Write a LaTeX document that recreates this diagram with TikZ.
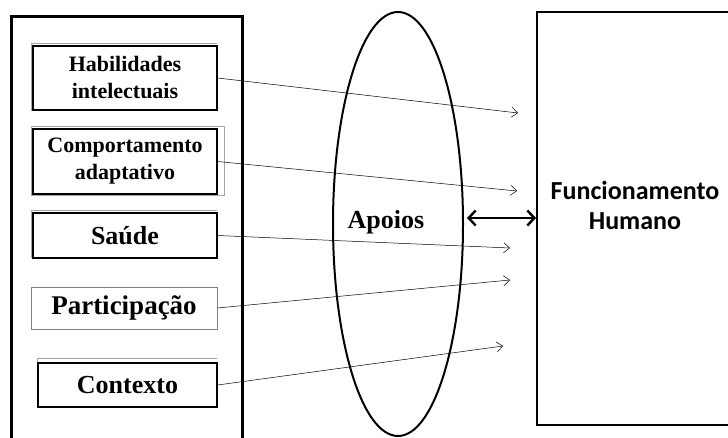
\documentclass[tikz,border=0pt]{standalone}
\usepackage{fontspec}
\setmainfont{Liberation Serif}
\newfontfamily\calibri{Carlito}
\usetikzlibrary{shapes.geometric,arrows.meta}
\begin{document}
\begin{tikzpicture}[x=1pt,y=-1pt]
      \tikzset{fator/.style={draw,line width=1.3pt,inner sep=0pt,align=center},
        sombra/.style={draw=gray!70,line width=0.8pt},
        seta/.style={-{Straight Barb[length=6pt,width=10pt]},line width=0.5pt},
        duplo/.style={{Straight Barb[length=7pt,width=15pt,line width=2.4pt]}-{Straight Barb[length=7pt,width=15pt,line width=2.4pt]},line width=2.4pt}}
      \useasboundingbox (0,0) rectangle (728,438);
      \draw[line width=3pt] (11,450) |- (242,17) -- (242,450);
      \draw[sombra] (31,111) |- (217,43);
      \draw[sombra] (31,195) |- (224,126) -- (224,195) -- (31,195);
      \draw[sombra] (31,258) |- (217,210);
      \draw[sombra] (37,407) |- (217,358);
      \node[fator,minimum width=184,minimum height=64,font=\bfseries\fontsize{22}{27}\selectfont] (hab) at (125,78)
        {Habilidades\\intelectuais};
      \node[fator,minimum width=184,minimum height=65,font=\bfseries\fontsize{22}{27}\selectfont] (comp) at (125,161.5)
        {Comportamento\\adaptativo};
      \node[fator,minimum width=184,minimum height=45,font=\bfseries\fontsize{26}{30}\selectfont] (sau) at (125,235.5)
        {Saúde};
      \node[fator,draw=gray,line width=0.8pt,minimum width=186,minimum height=42,font=\bfseries\fontsize{27}{30}\selectfont] (part) at (124,308)
        {Participação};
      \node[fator,minimum width=179,minimum height=44,font=\bfseries\fontsize{26}{30}\selectfont] (cont) at (127.5,385)
        {Contexto};
      \node[draw,ellipse,line width=2pt,minimum width=130,minimum height=424] (elipse) at (398,224) {};
      \node[font=\bfseries\fontsize{26}{30}\selectfont] (apoios) at (386,222) {Apoios};
      \node[draw,line width=2pt,minimum width=205,minimum height=413,inner sep=0pt] (funcbox) at (639.5,218.5) {};
      \node[font=\calibri\bfseries\fontsize{26}{30}\selectfont,align=center] (func) at (635,205)
        {Funcionamento\\Humano};
      \coordinate (e1) at (518,113);
      \coordinate (e2) at (517,191);
      \coordinate (e3) at (510,248);
      \coordinate (e4) at (510,280);
      \coordinate (e5) at (503,346);
      \coordinate (ap) at (467,218);
      \draw[seta] (hab.east) -- (e1);
      \draw[seta] (comp.east) -- (e2);
      \draw[seta] (sau.east) -- (e3);
      \draw[seta] (part.east) -- (e4);
      \draw[seta] (cont.east) -- (e5);
      \draw[duplo] (ap) -- (ap -| funcbox.west);
    \end{tikzpicture}
\end{document}
